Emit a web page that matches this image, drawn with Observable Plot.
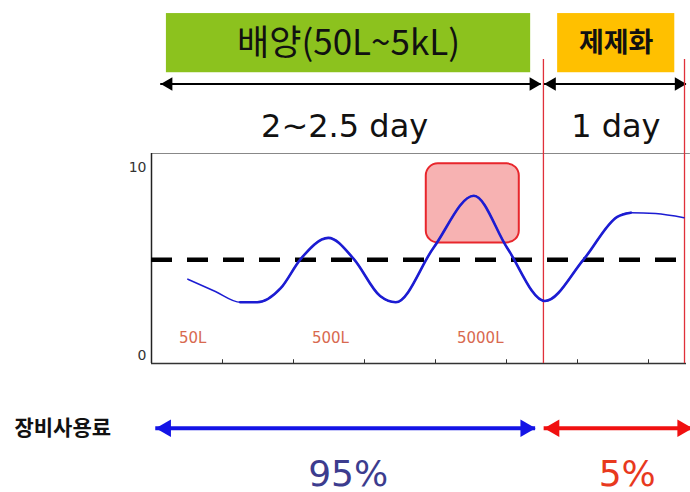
<!DOCTYPE html>
<html>
<head>
<meta charset="utf-8">
<script src="https://cdn.jsdelivr.net/npm/d3@7"></script>
<script src="https://cdn.jsdelivr.net/npm/@observablehq/plot@0.6"></script>
<style>
  html, body { margin: 0; padding: 0; background: #fff; }
  #chart svg { display: block; }
</style>
</head>
<body>
<div id="chart"></div>
<script>
// Process-time axis (x, in process steps) and relative equipment load (y, 0–10)
const curveX = [0.51, 0.90, 1.25, 1.49, 1.82, 2.10, 2.49, 2.85, 3.22, 3.44, 3.97, 4.54, 5.01, 5.54, 6.09, 6.56, 6.75, 7.10, 7.50];
const curveY = [4.06, 3.40, 2.83, 2.83, 3.58, 5.13, 6.26, 5.13, 3.16, 2.83, 5.72, 8.50, 5.72, 2.90, 5.13, 7.38, 7.60, 7.55, 7.33];

const threshold = 5.1;
const yTicks = [0, 10];
const xTicks = [1, 2, 3, 4, 5, 6, 7];

// Fermenter scale labels along the culture stage
const scaleLabels = ["50L", "500L", "5000L"];
const scaleLabelX = [0.58, 2.52, 4.63];

// Stages: culture (배양) and formulation (제제화)
const stageNames = ["배양(50L~5kL)", "제제화"];
const stageStart = [0.21, 5.72];
const stageEnd = [5.34, 7.37];
const stageColors = ["#8cc21e", "#ffc000"];
const stageDuration = ["2~2.5 day", "1 day"];
const stageBoundary = [5.52, 7.507];

// Share of equipment usage fees per stage
const feeLabel = "장비사용료";
const feeShare = ["95%", "5%"];
const feeColors = ["#1414e6", "#f01010"];
const feeTextColors = ["#3c3c8e", "#e8391e"];

// Peak-load window at the 5000L scale
const peakBox = {x1: 3.87, x2: 5.18, y1: 5.99, y2: 10.2};

const yBottom = -0.43, yTop = 10.75, xEnd = 7.535;
const yHeader = 16.6, yArrow = 14.45, yDays = 12.2, yFee = -3.88, yShare = -6.33;

const curve = curveX.map((x, i) => ({x, y: curveY[i]}));
// the load is drawn heavier while the fermenters are cycling
const cycling = curve.slice(2, 17);
const stages = stageNames.map((name, i) => ({
  name, x1: stageStart[i], x2: stageEnd[i], fill: stageColors[i],
  days: stageDuration[i], share: feeShare[i]
}));
const spans = [
  {x1: 0.13, x2: 5.49},
  {x1: 5.53, x2: xEnd}
];
const feeSpans = [
  {x1: 0.06, x2: 5.41, color: feeColors[0], text: feeTextColors[0], share: feeShare[0], cx: 2.77},
  {x1: 5.53, x2: 7.62, color: feeColors[1], text: feeTextColors[1], share: feeShare[1], cx: 6.70}
];
const dayX = [2.72, 6.54];

const cjk = "'Noto Sans CJK KR', sans-serif";
const latin = "'DejaVu Sans', Verdana, sans-serif";

// Arrow heads: triangles whose tips land on the span ends
function heads(rows, y, r, fill, xKey1 = "x1", xKey2 = "x2") {
  const back = 2 * Math.sqrt(Math.PI * r * r / (3 * Math.sqrt(3)));
  return [
    Plot.dot(rows, {x: xKey1, y: () => y, symbol: "triangle", r, fill, stroke: "none", rotate: -90, dx: back}),
    Plot.dot(rows, {x: xKey2, y: () => y, symbol: "triangle", r, fill, stroke: "none", rotate: 90, dx: -back})
  ];
}

const chart = Plot.plot({
  width: 690,
  height: 492,
  marginLeft: 151,
  marginRight: 4,
  marginTop: 153,
  marginBottom: 129,
  x: {domain: [0, xEnd], axis: null},
  y: {domain: [yBottom, yTop], axis: null},
  style: {background: "#fff", fontFamily: latin, overflow: "visible"},
  marks: [
    // stage header boxes
    Plot.rect(stages, {x1: "x1", x2: "x2", y1: 15.05, y2: 18.2, fill: "fill"}),
    Plot.text(stages.slice(0, 1), {x: d => (d.x1 + d.x2) / 2, y: yHeader, text: "name",
      fontSize: 35, fontFamily: cjk, fontWeight: 400, fill: "#111"}),
    Plot.text(stages.slice(1), {x: d => (d.x1 + d.x2) / 2, y: yHeader, text: "name",
      fontSize: 27, fontFamily: cjk, fontWeight: 700, fill: "#111"}),

    // duration spans
    Plot.ruleY(spans, {x1: "x1", x2: "x2", y: () => yArrow, stroke: "#000", strokeWidth: 2}),
    ...heads(spans, yArrow, 5, "#000"),
    Plot.text(stages, {x: (d, i) => dayX[i], y: yDays, text: "days", fontSize: 32,
      fontFamily: latin, fill: "#111"}),

    // plot frame
    Plot.ruleY([yTop], {x1: 0, x2: 7.59, stroke: "#888", strokeWidth: 1}),
    Plot.ruleX([0], {y1: yBottom, y2: yTop, stroke: "#222", strokeWidth: 1.5}),
    Plot.ruleY([yBottom], {x1: 0, x2: xEnd, stroke: "#333", strokeWidth: 1.5}),
    Plot.ruleX(xTicks, {y1: yBottom, y2: yBottom + 0.2, stroke: "#333", strokeWidth: 1}),
    Plot.text(yTicks, {x: 0, y: d => d, text: d => String(d), textAnchor: "end", dx: -5,
      fontSize: 14, fill: "#333", fontFamily: latin}),

    // peak window
    Plot.rect([peakBox], {x1: "x1", x2: "x2", y1: "y1", y2: "y2", rx: 12,
      fill: "#f6a4a4", fillOpacity: 0.85, stroke: "#e8262c", strokeWidth: 2}),

    // stage boundaries
    Plot.ruleX(stageBoundary, {y1: yBottom, y2: 15.75, stroke: "#e0303a", strokeWidth: 1.3}),

    // average level
    Plot.ruleY([threshold], {x1: 0, x2: xEnd, stroke: "#000", strokeWidth: 4.5,
      strokeDasharray: "21,15"}),

    // load curve
    Plot.line(curve, {x: "x", y: "y", curve: "monotone-x", stroke: "#1c1cd2", strokeWidth: 1.5}),
    Plot.line(cycling, {x: "x", y: "y", curve: "monotone-x", stroke: "#1c1cd2", strokeWidth: 2.6}),

    // fermenter scales
    Plot.text(scaleLabels, {x: (d, i) => scaleLabelX[i], y: 0.9, text: d => d,
      fontSize: 15, fill: "#d8694f", fontFamily: latin}),

    // usage fee spans
    Plot.text([feeLabel], {x: -1.93, y: yFee, text: d => d, textAnchor: "start",
      fontSize: 21, fontWeight: 700, fontFamily: cjk, fill: "#111"}),
    Plot.ruleY(feeSpans, {x1: "x1", x2: "x2", y: () => yFee, stroke: "color", strokeWidth: 4}),
    ...heads(feeSpans.slice(0, 1), yFee, 6.5, feeColors[0]),
    ...heads(feeSpans.slice(1), yFee, 6.5, feeColors[1]),
    Plot.text(feeSpans, {x: "cx", y: yShare, text: "share", fill: "text", fontSize: 36,
      fontFamily: latin})
  ]
});

document.getElementById("chart").append(chart);
</script>
</body>
</html>
